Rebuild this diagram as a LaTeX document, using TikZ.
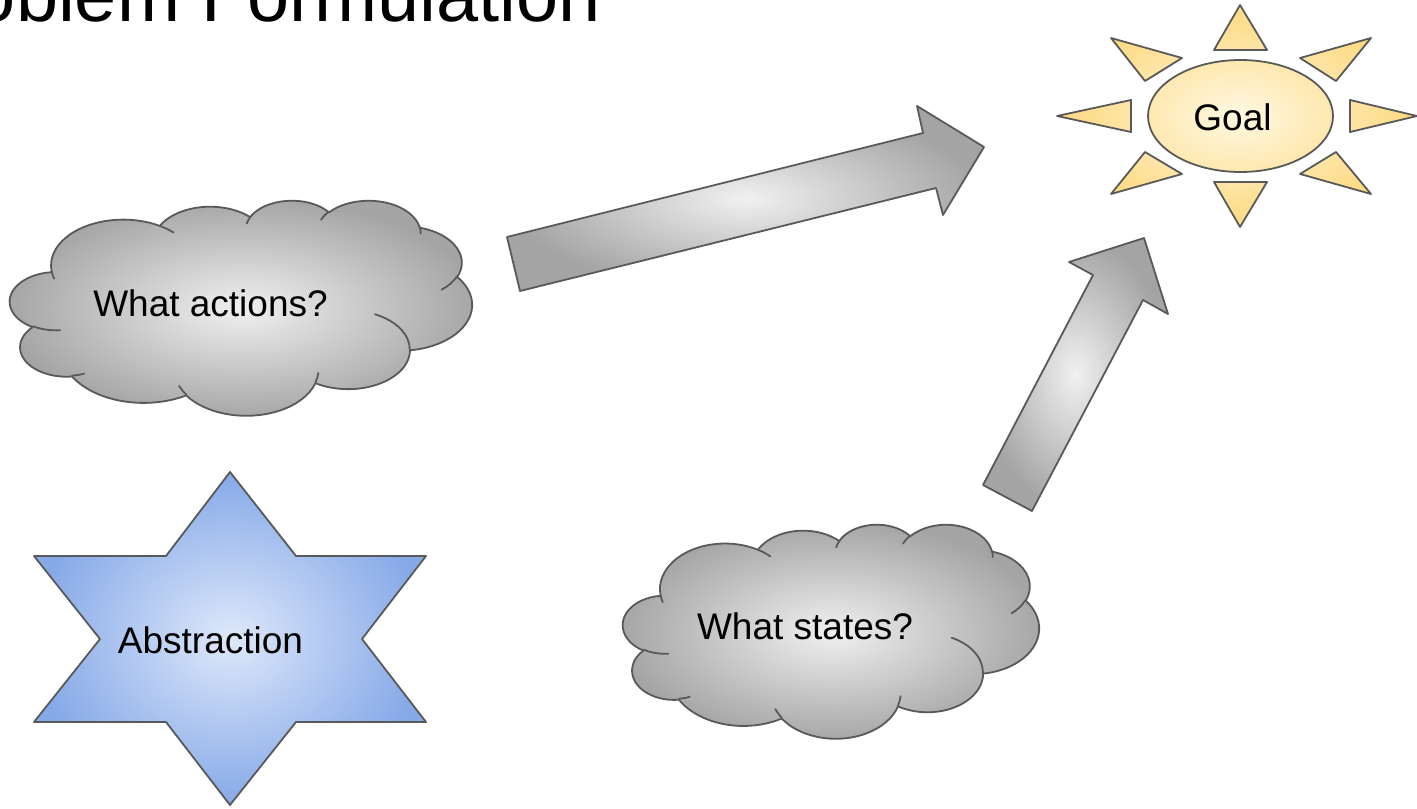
\documentclass[tikz,border=0pt]{standalone}
\usepackage{fontspec}
\setmainfont{Liberation Sans}
\usepackage{tikz}
\usetikzlibrary{calc}
\usetikzlibrary{positioning}
\definecolor{linegray}{HTML}{595959}
\definecolor{cloudin}{HTML}{F0F0F0}
\definecolor{cloudout}{HTML}{A4A4A4}
\definecolor{starin}{HTML}{DEE8FA}
\definecolor{starout}{HTML}{86A9E8}
\definecolor{sunin}{HTML}{FFF8E2}
\definecolor{sunout}{HTML}{FDD97F}
\tikzset{
  Outline/.style={draw=linegray, line width=0.9pt, line join=round, line cap=round}, % Umrandung
  CloudFill/.style={Outline, shade, shading=radial, inner color=cloudin, outer color=cloudout},
  ArrowFill/.style={Outline, shade, shading=radial, inner color=cloudin!95!white, outer color=cloudout},
  StarFill/.style={Outline, shade, shading=radial, inner color=starin, outer color=starout},
  SunFill/.style={Outline, shade, shading=radial, inner color=sunin, outer color=sunout},
  Label/.style={anchor=base, inner sep=0pt, text=black}
}
% Bogen mit Winkeln wie im Folienprogramm
\newcommand\carc[4]{%
  let \n1={atan2((#1)*sin(#3),(#2)*cos(#3))},
      \n2={atan2((#1)*sin(#3+#4),(#2)*cos(#3+#4))},
      \n3={mod(\n2-(\n1)+720,360)} in
  arc[x radius=#1, y radius=#2, start angle=\n1, delta angle=\n3]}
% Wolke in Kasten x0, y0, Breite, Hoehe
\newcommand\cloudshape[4]{%
  \pgfmathsetmacro\cloudx{#3/864}%
  \pgfmathsetmacro\cloudy{#4/864}%
  \begin{scope}[shift={(#1,#2)}, x=\cloudx pt, y=-\cloudy pt]
    \path[CloudFill] (39.00,143.70)
      \carc{67.53}{91.90}{-190.4875}{123.7805}
      \carc{53.33}{72.67}{-144.1024}{89.9452}
      \carc{43.65}{59.45}{-145.8079}{99.7230}
      \carc{48.57}{65.95}{-130.9861}{117.2417}
      \carc{53.33}{72.73}{-78.7089}{109.0269}
      \carc{67.75}{92.20}{-46.2673}{130.2690}
      \carc{57.85}{78.67}{0.6250}{114.0333}
      \carc{67.52}{92.15}{22.4516}{115.1726}
      \carc{77.20}{105.43}{66.2426}{75.7110}
      \carc{43.60}{59.18}{-274.9421}{146.7356}
      \carc{43.45}{59.45}{-246.8285}{152.5189} -- cycle;
    \draw[Outline]
      (46.93,261.77) \carc{43.45}{59.45}{86.742}{26.4295}
      (69.28,348.99) \carc{43.60}{59.18}{73.6105}{11.4475}
      (164.78,390.90) \carc{67.52}{92.15}{137.6242}{14.0811}
      (288.27,347.51) \carc{67.52}{92.15}{6.4533}{15.9984}
      (341.29,229.54) \carc{57.85}{78.67}{-70.2924}{70.9174}
      (417.98,153.54) \carc{53.33}{72.73}{30.318}{27.7515}
      (383.24,54.26) \carc{48.57}{65.95}{-13.7443}{14.8589}
      (290.78,39.52) \carc{48.57}{65.95}{-149.1815}{18.1954}
      (221.41,47.20) \carc{43.65}{59.45}{-163.4943}{17.6864}
      (140.00,51.92) \carc{67.53}{91.90}{-66.7070}{12.3194}
      (41.27,157.89) \carc{67.53}{91.90}{157.6544}{11.8582};
  \end{scope}}

\begin{document}
\begin{tikzpicture}[
x=0.5pt, y=-0.5pt,
font=\fontsize{18.5}{22}\selectfont
]
\path[use as bounding box, clip] (0,0) rectangle (1417,808);

%Titel
\node[anchor=base west, inner sep=0pt, font=\fontsize{37.85}{45}\selectfont]
  (title) at (-26.4,22) {oblem Formulation};

%Wolken
\cloudshape{10}{200}{462}{215}
\cloudshape{623}{524}{416}{214}

%Pfeile
\path[ArrowFill] (520,291) -- (507,237) -- (923,133) -- (917,106)
  -- (984,147) -- (943,215) -- (936,188) -- cycle;
\path[ArrowFill] (983,485) -- (1093,275) -- (1069,262) -- (1144,238)
  -- (1168,314) -- (1143,300) -- (1032,511) -- cycle;

%Stern
\path[StarFill] (230,472) -- (296,556) -- (426,556) -- (362,639)
  -- (426,722) -- (296,722) -- (230,805) -- (166,722) -- (34,722)
  -- (100,639) -- (34,556) -- (166,556) -- cycle;

%Sonne
\path[SunFill] (1240.5,116) ellipse[x radius=92.5, y radius=56]
  (1240,5) -- (1267,50) -- (1214,50) -- cycle
  (1240,227) -- (1267,182) -- (1214,182) -- cycle
  (1057,116) -- (1131,100) -- (1131,132) -- cycle
  (1417,116) -- (1350,100) -- (1350,132) -- cycle
  (1111,38) -- (1182,58) -- (1145,81) -- cycle
  (1371,38) -- (1300,58) -- (1336,81) -- cycle
  (1111,194) -- (1182,174) -- (1145,152) -- cycle
  (1371,194) -- (1300,174) -- (1336,152) -- cycle;

%Beschriftung
\node[Label] (actions) at (210.5,316) {What actions?};
\node[Label] (states) at (805,639) {What states?};
\node[Label] (abstr) at (210.5,653) {Abstraction};
\node[Label] (goal) at (1232.5,130) {Goal};

\end{tikzpicture}
\end{document}
